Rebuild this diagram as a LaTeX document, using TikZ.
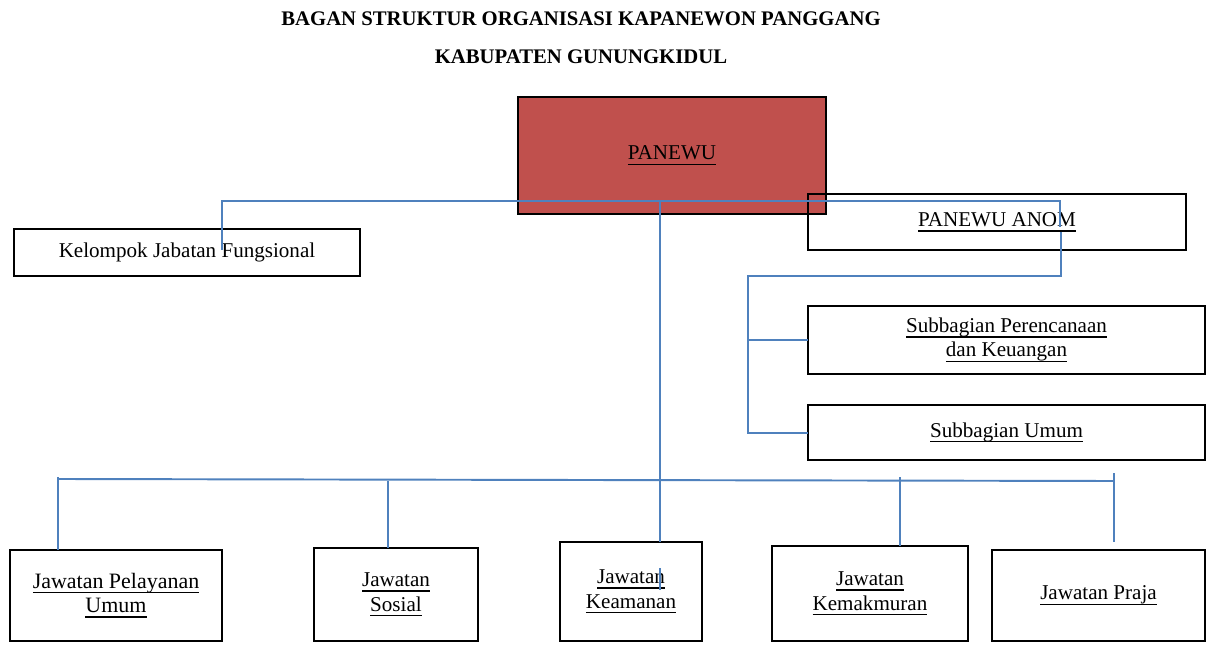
\documentclass[tikz,border=0pt]{standalone}
\usepackage{fontspec}
\setmainfont{Liberation Serif}
\newcommand\uln[1]{\leavevmode\setbox0\hbox{#1}\rlap{\rule[-3pt]{\wd0}{0.9pt}}\box0}
\definecolor{lineblue}{HTML}{4F81BD}
\definecolor{boxred}{HTML}{C0504D}
\begin{document}
\begin{tikzpicture}[x=0.02cm,y=-0.02cm,
  box/.style args={#1/#2}{draw=black, line width=1.4pt, inner sep=0pt, outer sep=0pt,
    minimum width=#1*0.02cm, minimum height=#2*0.02cm, align=center,
    font=\fontsize{12}{14}\selectfont},
  conn/.style={draw=lineblue, line width=1.1pt},
  ttl/.style={font=\fontsize{11.8}{14}\selectfont\bfseries}]
\useasboundingbox (0,0) rectangle (1206,651);
% title
\node[ttl] (t1) at (581,19) {BAGAN STRUKTUR ORGANISASI KAPANEWON PANGGANG};
\node[ttl] (t2) at (581,57) {KABUPATEN GUNUNGKIDUL};
% boxes
\node[box=308/117, fill=boxred] (panewu) at (672,155.5) {\uln{PANEWU}};
\node[box=378/56] (anom) at (997,222) {\uln{PANEWU ANOM}};
\node[box=346/47] (kjf) at (187,252.5) {Kelompok Jabatan Fungsional};
\node[box=397/68] (spk) at (1006.5,340) {\uln{Subbagian Perencanaan}\\\uln{dan Keuangan}};
\node[box=397/55] (su) at (1006.5,432.5) {\uln{Subbagian Umum}};
\node[box=212/91] (jpu) at (116,595.5) {\fontsize{12.5}{15}\selectfont\uln{Jawatan Pelayanan}\\\fontsize{12.5}{15}\selectfont\uln{Umum}};
\node[box=164/93] (js) at (396,594.5) {\uln{Jawatan}\\\uln{Sosial}};
\node[box=142/99] (jk) at (631,591.5) {\uln{Jawatan}\\\uln{Keamanan}};
\node[box=196/95] (jkm) at (870,593.5) {\uln{Jawatan}\\\uln{Kemakmuran}};
\node[box=213/91] (jp) at (1098.5,595.5) {\uln{Jawatan Praja}};
% connector points
\coordinate (kjfIn) at (222,250);
\coordinate (topL) at (222,201);
\coordinate (topM) at (660,201);
\coordinate (topR) at (1060,201);
\coordinate (anomIn) at (1060,227);
\coordinate (anomOut) at (1061,232);
\coordinate (subR) at (1061,276);
\coordinate (subL) at (748,276);
\coordinate (subB) at (748,433);
\coordinate (busL) at (58,479);
\coordinate (busR) at (1114,481);
\coordinate (tickA) at (660,568);
\coordinate (tickB) at (660,590);
% connectors
\draw[conn] (kjfIn) -- (topL) -- (topR) -- (anomIn);
\draw[conn] (anomOut) -- (subR) -- (subL) -- (subB) -- (su.west |- subB);
\draw[conn] (spk.west -| subL) -- (spk.west);
\draw[conn] (topM) -- (jk.north -| topM);
\draw[conn] (tickA) -- (tickB);
\draw[conn] (busL) -- (busR);
\draw[conn] (58,477) -- (jpu.north -| 58,0);
\draw[conn] (388,481) -- (js.north -| 388,0);
\draw[conn] (900,477) -- (jkm.north -| 900,0);
\draw[conn] (1114,473) -- (1114,542);
\end{tikzpicture}
\end{document}
